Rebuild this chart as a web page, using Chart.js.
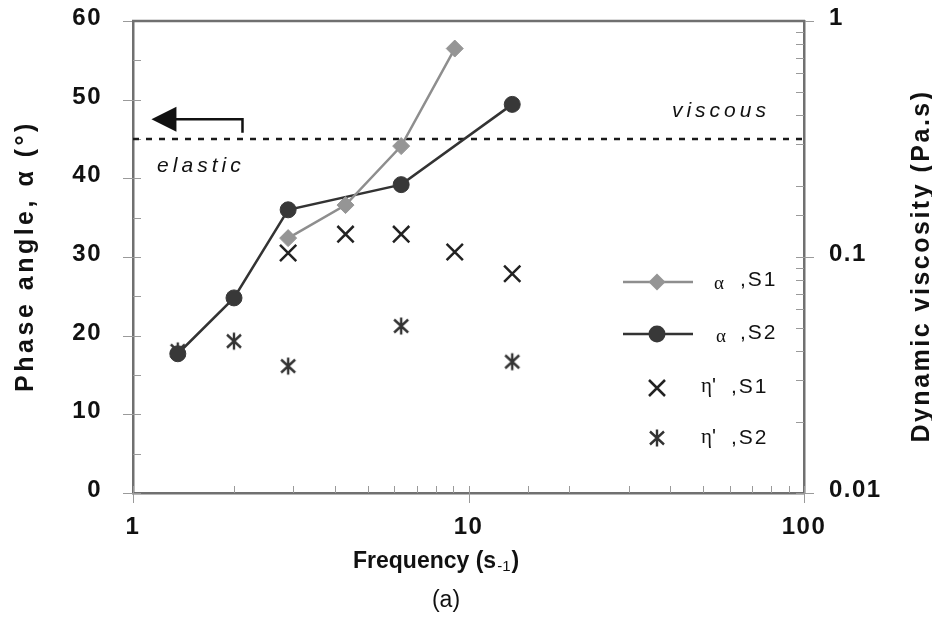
<!DOCTYPE html>
<html>
<head>
<meta charset="utf-8">
<script src="https://cdn.jsdelivr.net/npm/chart.js@4.4.1/dist/chart.umd.min.js"></script>
<style>
  html, body { margin: 0; padding: 0; background: #fff; }
  #wrap { width: 932px; height: 617px; }
</style>
</head>
<body>
<div id="wrap"><canvas id="phaseChart" width="932" height="617"></canvas></div>
<script>
// phase angle (deg) vs frequency (s-1)
const freqAlphaS1 = [2.9, 4.3, 6.3, 9.1];
const alphaS1 = [32.4, 36.6, 44.1, 56.5];
const freqAlphaS2 = [1.36, 2.0, 2.9, 6.3, 13.5];
const alphaS2 = [17.7, 24.8, 36.0, 39.2, 49.4];

// dynamic viscosity (Pa.s) vs frequency (s-1)
const freqEtaS1 = [2.9, 4.3, 6.3, 9.1, 13.5];
const etaS1 = [0.104, 0.125, 0.125, 0.105, 0.085];
const freqEtaS2 = [1.36, 2.0, 2.9, 6.3, 13.5];
const etaS2 = [0.040, 0.044, 0.0345, 0.051, 0.036];

// viscous / elastic boundary at 45 deg
const boundaryAngle = 45;
const freqRange = [1, 100];
const angleRange = [0, 60];
const viscRange = [0.01, 1];
const angleMinorTicks = [5, 15, 25, 35, 45, 55];

// annotation anchors (data coords)
const arrowTip = { x: 1.135, y: 47.5 };
const arrowElbow = { x: 2.12, y: 47.5 };
const arrowEnd = { x: 2.12, y: 45.8 };
const elasticAt = { x: 1.18, y: 40.85 };
const viscousAt = { x: 40.4, y: 47.8 };

const legendRows = [
  { greek: 'α', name: ',S1' },
  { greek: 'α', name: ',S2' },
  { greek: 'η', name: ',S1' },
  { greek: 'η', name: ',S2' }
];

const FONT = '"Liberation Sans", Arial, sans-serif';
const SERIF = '"Liberation Serif", "DejaVu Serif", serif';

const toPoints = (xs, ys) => xs.map((x, i) => ({ x, y: ys[i] }));
const isDecade = v => Math.abs(Math.log10(v) - Math.round(Math.log10(v))) < 1e-6;

// excel-like star marker: an X with a vertical bar
function makeAsterisk(color){
  const c = document.createElement('canvas');
  c.width = 20; c.height = 20;
  const g = c.getContext('2d');
  g.strokeStyle = color;
  g.lineWidth = 2.4;
  g.beginPath();
  g.moveTo(10, 1.5); g.lineTo(10, 18.5);
  g.moveTo(3, 3.5); g.lineTo(17, 16.5);
  g.moveTo(17, 3.5); g.lineTo(3, 16.5);
  g.stroke();
  return c;
}
const asterisk = makeAsterisk('#333');

const tickFont = { family: FONT, size: 24, weight: 'bold' };

// keep the plot box where the frame is, labels only take the outer space
const noPad = s => { s.paddingTop = 0; s.paddingBottom = 0; s.paddingLeft = 0; s.paddingRight = 0; };

const axisDecor = {
  id: 'axisDecor',
  beforeDraw(chart){
    chart.ctx.letterSpacing = '1.5px';
  },
  beforeDatasetsDraw(chart){
    const { ctx, chartArea: a, scales } = chart;
    ctx.letterSpacing = '0px';
    ctx.save();
    ctx.strokeStyle = '#9a9a9a';
    ctx.lineWidth = 1;
    ctx.beginPath();
    scales.x.ticks.forEach(t => {
      const px = Math.round(scales.x.getPixelForValue(t.value)) + 0.5;
      ctx.moveTo(px, a.bottom - 7);
      ctx.lineTo(px, isDecade(t.value) ? a.bottom + 10 : a.bottom);
    });
    scales.y.ticks.forEach(t => {
      const py = Math.round(scales.y.getPixelForValue(t.value)) + 0.5;
      ctx.moveTo(a.left - 10, py);
      ctx.lineTo(a.left + 8, py);
    });
    angleMinorTicks.forEach(v => {
      const py = Math.round(scales.y.getPixelForValue(v)) + 0.5;
      ctx.moveTo(a.left, py);
      ctx.lineTo(a.left + 8, py);
    });
    scales.y1.ticks.forEach(t => {
      const py = Math.round(scales.y1.getPixelForValue(t.value)) + 0.5;
      const major = isDecade(t.value);
      ctx.moveTo(a.right - 8, py);
      ctx.lineTo(major ? a.right + 10 : a.right, py);
    });
    ctx.stroke();
    // top edge of the frame
    ctx.strokeStyle = '#707070';
    ctx.lineWidth = 2.5;
    ctx.beginPath();
    ctx.moveTo(a.left - 1, a.top);
    ctx.lineTo(a.right + 1, a.top);
    ctx.stroke();
    ctx.restore();
  },
  afterDraw(chart){
    const { ctx, scales } = chart;
    const sx = scales.x, sy = scales.y;
    const X = v => sx.getPixelForValue(v);
    const Y = v => sy.getPixelForValue(v);
    ctx.save();
    ctx.fillStyle = '#111';
    ctx.strokeStyle = '#111';

    // arrow pointing to the elastic side
    const tx = X(arrowTip.x), ty = Y(arrowTip.y);
    const ex = X(arrowElbow.x), ey = Y(arrowEnd.y);
    ctx.lineWidth = 2.5;
    ctx.beginPath();
    ctx.moveTo(tx + 20, ty);
    ctx.lineTo(ex, ty);
    ctx.lineTo(ex, ey);
    ctx.stroke();
    ctx.beginPath();
    ctx.moveTo(tx, ty);
    ctx.lineTo(tx + 25, ty - 12.5);
    ctx.lineTo(tx + 25, ty + 12.5);
    ctx.closePath();
    ctx.fill();

    ctx.font = 'italic 21px ' + FONT;
    ctx.letterSpacing = '4px';
    ctx.textAlign = 'left';
    ctx.textBaseline = 'alphabetic';
    ctx.fillText('elastic', X(elasticAt.x), Y(elasticAt.y));
    ctx.fillText('viscous', X(viscousAt.x), Y(viscousAt.y));

    // legend
    const lx = 657, lineL = 623, lineR = 693;
    const rowY = [282, 334, 388, 438];
    const ds = chart.data.datasets;
    // alpha S1
    ctx.strokeStyle = ds[0].borderColor; ctx.lineWidth = ds[0].borderWidth;
    ctx.beginPath(); ctx.moveTo(lineL, rowY[0]); ctx.lineTo(lineR, rowY[0]); ctx.stroke();
    ctx.fillStyle = ds[0].pointBackgroundColor;
    ctx.beginPath();
    ctx.moveTo(lx, rowY[0] - 8.5); ctx.lineTo(lx + 8.5, rowY[0]);
    ctx.lineTo(lx, rowY[0] + 8.5); ctx.lineTo(lx - 8.5, rowY[0]);
    ctx.closePath(); ctx.fill();
    // alpha S2
    ctx.strokeStyle = ds[1].borderColor; ctx.lineWidth = ds[1].borderWidth;
    ctx.beginPath(); ctx.moveTo(lineL, rowY[1]); ctx.lineTo(lineR, rowY[1]); ctx.stroke();
    ctx.fillStyle = ds[1].pointBackgroundColor;
    ctx.beginPath(); ctx.arc(lx, rowY[1], 8.5, 0, Math.PI * 2); ctx.fill();
    // eta S1
    ctx.strokeStyle = ds[2].pointBorderColor; ctx.lineWidth = ds[2].pointBorderWidth;
    ctx.beginPath();
    ctx.moveTo(lx - 8, rowY[2] - 8); ctx.lineTo(lx + 8, rowY[2] + 8);
    ctx.moveTo(lx + 8, rowY[2] - 8); ctx.lineTo(lx - 8, rowY[2] + 8);
    ctx.stroke();
    // eta S2
    ctx.drawImage(asterisk, lx - 10, rowY[3] - 10);

    ctx.fillStyle = '#111';
    const greekX = [714, 716, 701, 701];
    const nameX = [740, 740, 731, 731];
    const baseY = [286, 339, 393, 444];
    legendRows.forEach((r, i) => {
      ctx.letterSpacing = '0px';
      if (r.greek === 'α') {
        ctx.font = '19px ' + SERIF;
        ctx.fillText(r.greek, greekX[i], baseY[i] + 3);
      } else {
        ctx.font = '21px ' + SERIF;
        ctx.fillText(r.greek, greekX[i], baseY[i] - 1);
        ctx.font = '21px ' + FONT;
        ctx.fillText("'", greekX[i] + 11, baseY[i] - 1);
      }
      ctx.font = '21px ' + FONT;
      ctx.letterSpacing = '2px';
      ctx.fillText(r.name, nameX[i], baseY[i]);
    });

    // axis titles
    ctx.letterSpacing = '0px';
    ctx.font = 'bold 23px ' + FONT;
    let x = 353;
    const by = 568;
    ctx.fillText('Frequency (s', x, by);
    x += ctx.measureText('Frequency (s').width + 1;
    ctx.font = '15px ' + FONT;
    ctx.fillText('-1', x, by + 3);
    x += ctx.measureText('-1').width + 1;
    ctx.font = 'bold 23px ' + FONT;
    ctx.fillText(')', x, by);

    ctx.font = '23px ' + FONT;
    ctx.textAlign = 'center';
    ctx.fillText('(a)', 446, 607);

    ctx.save();
    ctx.translate(33, 256);
    ctx.rotate(-Math.PI / 2);
    ctx.font = 'bold 25px ' + FONT;
    ctx.letterSpacing = '3.5px';
    ctx.fillText('Phase angle, α (°)', 0, 0);
    ctx.restore();

    ctx.save();
    ctx.translate(929, 266);
    ctx.rotate(-Math.PI / 2);
    ctx.font = 'bold 25px ' + FONT;
    ctx.letterSpacing = '2.5px';
    ctx.fillText('Dynamic viscosity (Pa.s)', 0, 0);
    ctx.restore();

    ctx.restore();
  }
};

new Chart(document.getElementById('phaseChart'), {
  type: 'scatter',
  data: {
    datasets: [
      {
        label: 'α ,S1',
        data: toPoints(freqAlphaS1, alphaS1),
        yAxisID: 'y',
        showLine: true,
        borderColor: '#8e8e8e',
        borderWidth: 2.5,
        pointStyle: 'rectRot',
        pointRadius: 8.5,
        pointBackgroundColor: '#959595',
        pointBorderColor: '#959595',
        pointBorderWidth: 1
      },
      {
        label: 'α ,S2',
        data: toPoints(freqAlphaS2, alphaS2),
        yAxisID: 'y',
        showLine: true,
        borderColor: '#333333',
        borderWidth: 2.5,
        pointStyle: 'circle',
        pointRadius: 8,
        pointBackgroundColor: '#383838',
        pointBorderColor: '#383838',
        pointBorderWidth: 1
      },
      {
        label: "η' ,S1",
        data: toPoints(freqEtaS1, etaS1),
        yAxisID: 'y1',
        showLine: false,
        pointStyle: 'crossRot',
        pointRadius: 11.5,
        pointBorderColor: '#222222',
        pointBorderWidth: 2.5
      },
      {
        label: "η' ,S2",
        data: toPoints(freqEtaS2, etaS2),
        yAxisID: 'y1',
        showLine: false,
        pointStyle: asterisk,
        pointRadius: 10
      },
      {
        label: 'boundary',
        data: freqRange.map(f => ({ x: f, y: boundaryAngle })),
        yAxisID: 'y',
        showLine: true,
        borderColor: '#1a1a1a',
        borderWidth: 2.5,
        borderDash: [6, 7],
        pointRadius: 0
      }
    ]
  },
  options: {
    responsive: false,
    animation: false,
    events: [],
    layout: { padding: { top: 21, left: 0, right: 0, bottom: 0 } },
    plugins: { legend: { display: false }, tooltip: { enabled: false } },
    scales: {
      x: {
        type: 'logarithmic',
        position: 'bottom',
        min: freqRange[0],
        max: freqRange[1],
        grid: { display: false, drawTicks: false },
        border: { display: true, color: '#707070', width: 2.5 },
        ticks: {
          autoSkip: false,
          maxRotation: 0,
          padding: 20,
          color: '#111',
          font: tickFont,
          callback: v => isDecade(v) ? String(Math.round(v)) : ''
        },
        afterFit: s => { s.height = 124; noPad(s); }
      },
      y: {
        type: 'linear',
        position: 'left',
        min: angleRange[0],
        max: angleRange[1],
        grid: { display: false, drawTicks: false },
        border: { display: true, color: '#707070', width: 2.5 },
        ticks: { stepSize: 10, padding: 31, labelOffset: -2.5, color: '#111', font: tickFont },
        afterFit: s => { s.width = 133; noPad(s); }
      },
      y1: {
        type: 'logarithmic',
        position: 'right',
        min: viscRange[0],
        max: viscRange[1],
        grid: { display: false, drawTicks: false },
        border: { display: true, color: '#707070', width: 2.5 },
        ticks: {
          autoSkip: false,
          padding: 25,
          labelOffset: -3,
          color: '#111',
          font: tickFont,
          callback: v => isDecade(v) ? String(Number(v.toPrecision(3))) : ''
        },
        afterFit: s => { s.width = 128; noPad(s); }
      }
    }
  },
  plugins: [axisDecor]
});
</script>
</body>
</html>
